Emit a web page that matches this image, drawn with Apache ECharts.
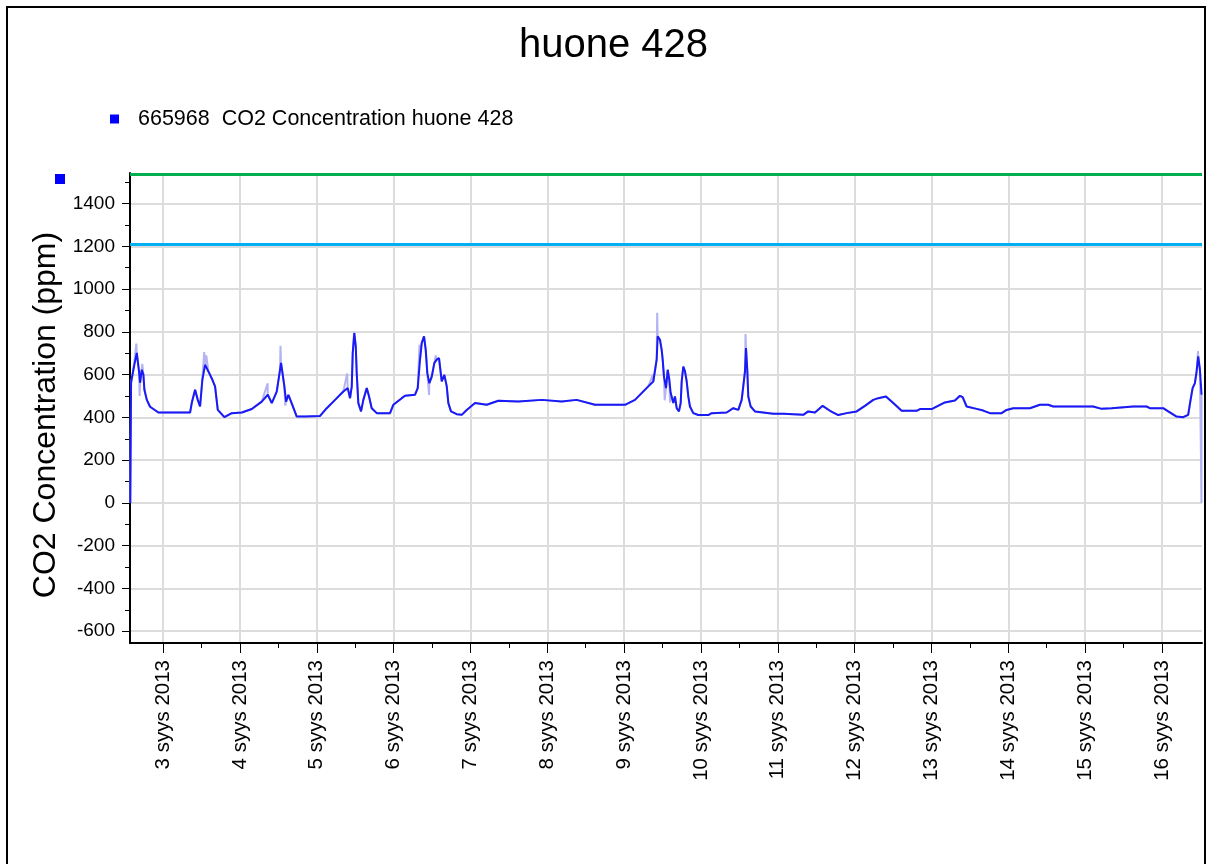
<!DOCTYPE html>
<html><head><meta charset="utf-8">
<script src="https://cdn.jsdelivr.net/npm/echarts@6/dist/echarts.min.js"></script>
<style>html,body{margin:0;padding:0;background:#fff}#c{width:1208px;height:864px}</style>
</head><body><div id="c"></div><script>
const seriesName = '665968  CO2 Concentration huone 428';
const chartTitle = 'huone 428';
const yAxisName = 'CO2 Concentration (ppm)';

const mainTimes = [
'2013-09-02 13:45','2013-09-02 14:00','2013-09-02 14:43','2013-09-02 15:47','2013-09-02 16:30','2013-09-02 16:49','2013-09-02 17:21','2013-09-02 17:51','2013-09-02 18:10','2013-09-02 18:55','2013-09-02 19:56','2013-09-02 22:32',
'2013-09-03 08:26','2013-09-03 08:58','2013-09-03 10:00','2013-09-03 10:50','2013-09-03 11:33','2013-09-03 12:16','2013-09-03 13:07','2013-09-03 14:09','2013-09-03 15:24','2013-09-03 16:14','2013-09-03 17:05','2013-09-03 19:09','2013-09-03 21:27',
'2013-09-04 00:35','2013-09-04 03:42','2013-09-04 06:49','2013-09-04 08:42','2013-09-04 09:57','2013-09-04 11:30','2013-09-04 12:32','2013-09-04 12:51','2013-09-04 13:53','2013-09-04 14:25','2013-09-04 15:08','2013-09-04 15:58','2013-09-04 17:45','2013-09-04 20:21',
'2013-09-05 01:02','2013-09-05 03:07','2013-09-05 05:43','2013-09-05 08:18','2013-09-05 09:41','2013-09-05 10:24','2013-09-05 10:56','2013-09-05 11:14','2013-09-05 11:44','2013-09-05 12:11','2013-09-05 12:29','2013-09-05 12:59','2013-09-05 13:50','2013-09-05 14:33','2013-09-05 15:37','2013-09-05 16:20','2013-09-05 17:10','2013-09-05 18:44','2013-09-05 22:53','2013-09-05 23:55',
'2013-09-06 02:33','2013-09-06 03:34','2013-09-06 06:42','2013-09-06 07:32','2013-09-06 08:15','2013-09-06 08:47','2013-09-06 09:30','2013-09-06 10:02','2013-09-06 10:32','2013-09-06 11:10','2013-09-06 11:55','2013-09-06 12:43','2013-09-06 13:28','2013-09-06 14:11','2013-09-06 15:02','2013-09-06 15:51','2013-09-06 16:36','2013-09-06 17:06','2013-09-06 17:56','2013-09-06 19:43','2013-09-06 21:17','2013-09-06 22:50',
'2013-09-07 01:26','2013-09-07 05:05','2013-09-07 08:43','2013-09-07 14:57','2013-09-07 22:16',
'2013-09-08 04:30','2013-09-08 09:11','2013-09-08 14:54',
'2013-09-09 00:16','2013-09-09 03:24','2013-09-09 07:33','2013-09-09 09:07','2013-09-09 09:39','2013-09-09 10:10','2013-09-09 10:29','2013-09-09 11:12','2013-09-09 11:44','2013-09-09 12:03','2013-09-09 12:27','2013-09-09 13:05','2013-09-09 13:37','2013-09-09 14:07','2013-09-09 14:33','2013-09-09 15:22','2013-09-09 15:53','2013-09-09 16:25','2013-09-09 17:08','2013-09-09 17:40','2013-09-09 17:59','2013-09-09 18:29','2013-09-09 19:01','2013-09-09 19:33','2013-09-09 20:03','2013-09-09 20:34','2013-09-09 21:36','2013-09-09 23:10',
'2013-09-10 02:17','2013-09-10 03:21','2013-09-10 08:02','2013-09-10 10:06','2013-09-10 11:40','2013-09-10 12:43','2013-09-10 13:13','2013-09-10 13:45','2013-09-10 14:04','2013-09-10 14:28','2013-09-10 14:47','2013-09-10 15:32','2013-09-10 16:52','2013-09-10 22:35',
'2013-09-11 01:43','2013-09-11 07:57','2013-09-11 09:31','2013-09-11 11:37','2013-09-11 14:01','2013-09-11 16:18','2013-09-11 18:53','2013-09-11 21:31',
'2013-09-12 00:38','2013-09-12 03:13','2013-09-12 05:49','2013-09-12 07:23','2013-09-12 09:47','2013-09-12 12:04','2013-09-12 14:41','2013-09-12 19:22','2013-09-12 20:24',
'2013-09-13 00:03','2013-09-13 04:12','2013-09-13 07:20','2013-09-13 08:53','2013-09-13 09:44','2013-09-13 10:59','2013-09-13 14:06','2013-09-13 16:10','2013-09-13 18:16','2013-09-13 21:55','2013-09-13 23:28',
'2013-09-14 01:32','2013-09-14 06:45','2013-09-14 09:52','2013-09-14 12:28','2013-09-14 14:02',
'2013-09-15 02:31','2013-09-15 05:09','2013-09-15 08:16','2013-09-15 15:01','2013-09-15 19:11','2013-09-15 20:13',
'2013-09-16 00:23','2013-09-16 01:57','2013-09-16 04:34','2013-09-16 06:38','2013-09-16 08:11','2013-09-16 08:56','2013-09-16 09:34','2013-09-16 10:17','2013-09-16 10:49','2013-09-16 11:19','2013-09-16 11:51','2013-09-16 12:22'
];
const mainValues = [
0,562,623,702,613,562,623,600,529,482,450,423,
423,468,529,482,451,576,646,615,576,545,435,401,420,
423,439,474,506,467,521,623,655,545,474,506,474,404,404,
407,443,482,521,537,490,545,701,794,732,607,467,428,482,537,498,443,420,420,459,
490,501,506,537,670,748,779,716,607,560,591,654,670,677,568,599,545,467,428,415,412,435,
467,459,478,474,482,
474,482,459,
459,482,545,568,576,670,779,763,716,670,591,537,623,576,514,467,498,443,428,467,568,638,615,568,498,451,420,411,
411,420,423,443,435,482,545,615,724,623,498,451,428,417,
417,412,428,423,454,431,411,420,
428,454,482,490,498,467,431,431,439,
439,470,479,501,495,451,440,432,420,420,435,
443,443,459,459,451,
451,440,443,451,451,443,
443,428,404,401,412,482,537,560,615,685,623,506
];

// light (raw) spikes around the averaged line
const spikeTimes = ['2013-09-02 15:40','2013-09-02 16:40','2013-09-02 17:30','2013-09-03 12:50','2013-09-03 13:30','2013-09-04 08:40','2013-09-04 12:40','2013-09-04 14:10','2013-09-05 09:30','2013-09-05 11:40','2013-09-06 08:05','2013-09-06 11:05','2013-09-06 13:10','2013-09-09 09:00','2013-09-09 10:20','2013-09-09 12:40','2013-09-09 14:20','2013-09-10 13:55','2013-09-16 11:15','2013-09-16 12:20'];
const spikeValues = [745,500,650,705,690,560,735,455,605,800,740,505,690,600,889,480,470,790,710,0];

const thresholdValues = [1536, 1208];
const thresholdColors = ['#00b050', '#00b0f0'];

const xMin = '2013-09-02 13:40';
const xMax = '2013-09-16 12:30';
const dayTicks = ['2013-09-03 00:00','2013-09-04 00:00','2013-09-05 00:00','2013-09-06 00:00','2013-09-07 00:00','2013-09-08 00:00','2013-09-09 00:00','2013-09-10 00:00','2013-09-11 00:00','2013-09-12 00:00','2013-09-13 00:00','2013-09-14 00:00','2013-09-15 00:00','2013-09-16 00:00'];
const dayLabels = ['3 syys 2013','4 syys 2013','5 syys 2013','6 syys 2013','7 syys 2013','8 syys 2013','9 syys 2013','10 syys 2013','11 syys 2013','12 syys 2013','13 syys 2013','14 syys 2013','15 syys 2013','16 syys 2013'];
const halfDayTicks = ['2013-09-03 12:00','2013-09-04 12:00','2013-09-05 12:00','2013-09-06 12:00','2013-09-07 12:00','2013-09-08 12:00','2013-09-09 12:00','2013-09-10 12:00','2013-09-11 12:00','2013-09-12 12:00','2013-09-13 12:00','2013-09-14 12:00','2013-09-15 12:00'];

const yMin = -655, yMax = 1543;
const yTicks = [-600,-400,-200,0,200,400,600,800,1000,1200,1400];
const yMinorTicks = [-500,-300,-100,100,300,500,700,900,1100,1300,1500];

const FONT = '"Liberation Sans", Arial, sans-serif';
function toTs(s){const [d,t]=s.split(' ');const [Y,M,D]=d.split('-').map(Number);const [h,m]=t.split(':').map(Number);return Date.UTC(Y,M-1,D,h,m);}
const mainData = mainTimes.map((t,i)=>[toTs(t), mainValues[i]]);
const lightData = mainData.concat(spikeTimes.map((t,i)=>[toTs(t), spikeValues[i]])).sort((a,b)=>a[0]-b[0]);
const dayTs = dayTicks.map(toTs);
const halfTs = halfDayTicks.map(toTs);

const chart = echarts.init(document.getElementById('c'));
chart.setOption({
  animation:false,
  backgroundColor:'#fff',
  title:{text:chartTitle,left:514,top:21,textStyle:{fontFamily:FONT,fontSize:40,fontWeight:'normal',color:'#000'}},
  legend:{data:[seriesName],left:105,top:103,icon:'rect',itemWidth:9,itemHeight:9,
    textStyle:{fontFamily:FONT,fontSize:21.5,color:'#000',padding:[0,0,0,14]}},
  grid:{left:130,right:6,top:173,bottom:221},
  xAxis:[{
    type:'value',min:toTs(xMin),max:toTs(xMax),position:'bottom',
    axisLine:{onZero:false,lineStyle:{color:'#000',width:2}},
    axisTick:{customValues:dayTs,length:10,lineStyle:{color:'#000',width:1}},
    axisLabel:{customValues:dayTs,rotate:90,margin:17,fontFamily:FONT,fontSize:20.5,color:'#000',
      formatter:v=>{const i=dayTs.findIndex(t=>Math.abs(t-v)<60000);return i>=0?dayLabels[i]:'';}},
    splitLine:{show:true,lineStyle:{color:'#dcdcdc',width:2}}
  },{
    type:'value',min:toTs(xMin),max:toTs(xMax),position:'bottom',
    axisLine:{show:false,onZero:false},
    axisTick:{customValues:halfTs,length:5,lineStyle:{color:'#000',width:1}},
    axisLabel:{show:false},splitLine:{show:false}
  }],
  yAxis:[{
    type:'value',min:yMin,max:yMax,position:'left',
    name:yAxisName,nameLocation:'middle',nameGap:67,
    nameTextStyle:{fontFamily:FONT,fontSize:32,color:'#000',padding:[0,14,0,0]},
    axisLine:{show:true,onZero:false,lineStyle:{color:'#000',width:2}},
    axisTick:{show:true,customValues:yTicks,length:8,lineStyle:{color:'#000',width:1}},
    axisLabel:{customValues:yTicks,margin:15,fontFamily:FONT,fontSize:19,color:'#000',formatter:v=>String(v)},
    splitLine:{show:true,lineStyle:{color:'#dcdcdc',width:2}}
  },{
    type:'value',min:yMin,max:yMax,position:'left',
    axisLine:{show:false,onZero:false},
    axisTick:{show:true,customValues:yMinorTicks,length:5,lineStyle:{color:'#000',width:1}},
    axisLabel:{show:false},splitLine:{show:false}
  }],
  series:[{
    name:'raw',type:'line',data:lightData,showSymbol:false,silent:true,
    lineStyle:{color:'#b4b4f2',width:2},z:2
  },{
    name:seriesName,type:'line',data:mainData,showSymbol:false,
    itemStyle:{color:'#0000ff'},
    lineStyle:{color:'#1a1af5',width:2},z:3,
    markLine:{silent:true,symbol:'none',animation:false,label:{show:false},
      data:thresholdValues.map((v,i)=>({yAxis:v,lineStyle:{color:thresholdColors[i],width:3,type:'solid'}}))}
  }],
  graphic:[
    {type:'rect',shape:{x:7,y:7,width:1198,height:900},style:{fill:'none',stroke:'#000',lineWidth:2},silent:true,z:100},
    {type:'rect',shape:{x:55,y:174,width:10,height:10},style:{fill:'#0000ff'},silent:true}
  ]
});
</script></body></html>
